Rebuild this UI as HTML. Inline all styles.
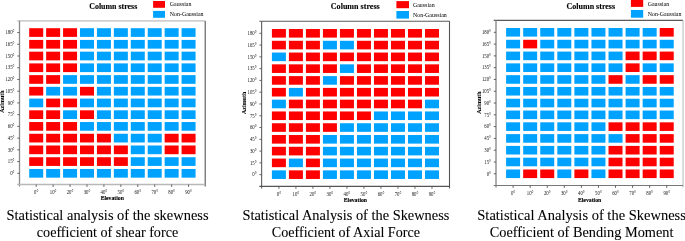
<!DOCTYPE html>
<html><head><meta charset="utf-8"><style>
html,body{margin:0;padding:0;background:#fff;width:685px;height:241px;overflow:hidden}
svg{display:block;will-change:transform}
text{font-family:"Liberation Serif",serif;fill:#111}
.tk{font-size:5.3px;fill:#111}
.ti{font-size:8.6px;font-weight:bold;fill:#000;stroke:#000;stroke-width:0.12px}
.lg{font-size:5.9px;fill:#000}
.al{font-size:7px;font-weight:bold;fill:#000;stroke:#000;stroke-width:0.15px}
.az{font-size:6px;stroke-width:0.06px}
.cap{font-size:14px;fill:#000;stroke:#000;stroke-width:0.08px}
</style></head><body>
<svg width="685" height="241" viewBox="0 0 685 241">
<rect x="29.20" y="28.20" width="14.0" height="8.7" fill="#ff0000"/>
<rect x="46.13" y="28.20" width="14.0" height="8.7" fill="#ff0000"/>
<rect x="63.06" y="28.20" width="14.0" height="8.7" fill="#ff0000"/>
<rect x="79.99" y="28.20" width="14.0" height="8.7" fill="#00a2ff"/>
<rect x="96.92" y="28.20" width="14.0" height="8.7" fill="#00a2ff"/>
<rect x="113.85" y="28.20" width="14.0" height="8.7" fill="#00a2ff"/>
<rect x="130.78" y="28.20" width="14.0" height="8.7" fill="#00a2ff"/>
<rect x="147.71" y="28.20" width="14.0" height="8.7" fill="#00a2ff"/>
<rect x="164.64" y="28.20" width="14.0" height="8.7" fill="#00a2ff"/>
<rect x="181.57" y="28.20" width="14.0" height="8.7" fill="#00a2ff"/>
<rect x="29.20" y="39.93" width="14.0" height="8.7" fill="#ff0000"/>
<rect x="46.13" y="39.93" width="14.0" height="8.7" fill="#ff0000"/>
<rect x="63.06" y="39.93" width="14.0" height="8.7" fill="#ff0000"/>
<rect x="79.99" y="39.93" width="14.0" height="8.7" fill="#00a2ff"/>
<rect x="96.92" y="39.93" width="14.0" height="8.7" fill="#00a2ff"/>
<rect x="113.85" y="39.93" width="14.0" height="8.7" fill="#00a2ff"/>
<rect x="130.78" y="39.93" width="14.0" height="8.7" fill="#00a2ff"/>
<rect x="147.71" y="39.93" width="14.0" height="8.7" fill="#00a2ff"/>
<rect x="164.64" y="39.93" width="14.0" height="8.7" fill="#00a2ff"/>
<rect x="181.57" y="39.93" width="14.0" height="8.7" fill="#00a2ff"/>
<rect x="29.20" y="51.66" width="14.0" height="8.7" fill="#ff0000"/>
<rect x="46.13" y="51.66" width="14.0" height="8.7" fill="#ff0000"/>
<rect x="63.06" y="51.66" width="14.0" height="8.7" fill="#ff0000"/>
<rect x="79.99" y="51.66" width="14.0" height="8.7" fill="#00a2ff"/>
<rect x="96.92" y="51.66" width="14.0" height="8.7" fill="#00a2ff"/>
<rect x="113.85" y="51.66" width="14.0" height="8.7" fill="#00a2ff"/>
<rect x="130.78" y="51.66" width="14.0" height="8.7" fill="#00a2ff"/>
<rect x="147.71" y="51.66" width="14.0" height="8.7" fill="#00a2ff"/>
<rect x="164.64" y="51.66" width="14.0" height="8.7" fill="#00a2ff"/>
<rect x="181.57" y="51.66" width="14.0" height="8.7" fill="#00a2ff"/>
<rect x="29.20" y="63.39" width="14.0" height="8.7" fill="#ff0000"/>
<rect x="46.13" y="63.39" width="14.0" height="8.7" fill="#ff0000"/>
<rect x="63.06" y="63.39" width="14.0" height="8.7" fill="#ff0000"/>
<rect x="79.99" y="63.39" width="14.0" height="8.7" fill="#00a2ff"/>
<rect x="96.92" y="63.39" width="14.0" height="8.7" fill="#00a2ff"/>
<rect x="113.85" y="63.39" width="14.0" height="8.7" fill="#00a2ff"/>
<rect x="130.78" y="63.39" width="14.0" height="8.7" fill="#00a2ff"/>
<rect x="147.71" y="63.39" width="14.0" height="8.7" fill="#00a2ff"/>
<rect x="164.64" y="63.39" width="14.0" height="8.7" fill="#00a2ff"/>
<rect x="181.57" y="63.39" width="14.0" height="8.7" fill="#00a2ff"/>
<rect x="29.20" y="75.12" width="14.0" height="8.7" fill="#ff0000"/>
<rect x="46.13" y="75.12" width="14.0" height="8.7" fill="#ff0000"/>
<rect x="63.06" y="75.12" width="14.0" height="8.7" fill="#00a2ff"/>
<rect x="79.99" y="75.12" width="14.0" height="8.7" fill="#00a2ff"/>
<rect x="96.92" y="75.12" width="14.0" height="8.7" fill="#00a2ff"/>
<rect x="113.85" y="75.12" width="14.0" height="8.7" fill="#00a2ff"/>
<rect x="130.78" y="75.12" width="14.0" height="8.7" fill="#00a2ff"/>
<rect x="147.71" y="75.12" width="14.0" height="8.7" fill="#00a2ff"/>
<rect x="164.64" y="75.12" width="14.0" height="8.7" fill="#00a2ff"/>
<rect x="181.57" y="75.12" width="14.0" height="8.7" fill="#00a2ff"/>
<rect x="29.20" y="86.85" width="14.0" height="8.7" fill="#ff0000"/>
<rect x="46.13" y="86.85" width="14.0" height="8.7" fill="#00a2ff"/>
<rect x="63.06" y="86.85" width="14.0" height="8.7" fill="#00a2ff"/>
<rect x="79.99" y="86.85" width="14.0" height="8.7" fill="#ff0000"/>
<rect x="96.92" y="86.85" width="14.0" height="8.7" fill="#00a2ff"/>
<rect x="113.85" y="86.85" width="14.0" height="8.7" fill="#00a2ff"/>
<rect x="130.78" y="86.85" width="14.0" height="8.7" fill="#00a2ff"/>
<rect x="147.71" y="86.85" width="14.0" height="8.7" fill="#00a2ff"/>
<rect x="164.64" y="86.85" width="14.0" height="8.7" fill="#00a2ff"/>
<rect x="181.57" y="86.85" width="14.0" height="8.7" fill="#00a2ff"/>
<rect x="29.20" y="98.58" width="14.0" height="8.7" fill="#00a2ff"/>
<rect x="46.13" y="98.58" width="14.0" height="8.7" fill="#ff0000"/>
<rect x="63.06" y="98.58" width="14.0" height="8.7" fill="#ff0000"/>
<rect x="79.99" y="98.58" width="14.0" height="8.7" fill="#00a2ff"/>
<rect x="96.92" y="98.58" width="14.0" height="8.7" fill="#00a2ff"/>
<rect x="113.85" y="98.58" width="14.0" height="8.7" fill="#00a2ff"/>
<rect x="130.78" y="98.58" width="14.0" height="8.7" fill="#00a2ff"/>
<rect x="147.71" y="98.58" width="14.0" height="8.7" fill="#00a2ff"/>
<rect x="164.64" y="98.58" width="14.0" height="8.7" fill="#00a2ff"/>
<rect x="181.57" y="98.58" width="14.0" height="8.7" fill="#00a2ff"/>
<rect x="29.20" y="110.31" width="14.0" height="8.7" fill="#ff0000"/>
<rect x="46.13" y="110.31" width="14.0" height="8.7" fill="#ff0000"/>
<rect x="63.06" y="110.31" width="14.0" height="8.7" fill="#00a2ff"/>
<rect x="79.99" y="110.31" width="14.0" height="8.7" fill="#ff0000"/>
<rect x="96.92" y="110.31" width="14.0" height="8.7" fill="#00a2ff"/>
<rect x="113.85" y="110.31" width="14.0" height="8.7" fill="#00a2ff"/>
<rect x="130.78" y="110.31" width="14.0" height="8.7" fill="#00a2ff"/>
<rect x="147.71" y="110.31" width="14.0" height="8.7" fill="#00a2ff"/>
<rect x="164.64" y="110.31" width="14.0" height="8.7" fill="#00a2ff"/>
<rect x="181.57" y="110.31" width="14.0" height="8.7" fill="#00a2ff"/>
<rect x="29.20" y="122.04" width="14.0" height="8.7" fill="#ff0000"/>
<rect x="46.13" y="122.04" width="14.0" height="8.7" fill="#ff0000"/>
<rect x="63.06" y="122.04" width="14.0" height="8.7" fill="#ff0000"/>
<rect x="79.99" y="122.04" width="14.0" height="8.7" fill="#00a2ff"/>
<rect x="96.92" y="122.04" width="14.0" height="8.7" fill="#00a2ff"/>
<rect x="113.85" y="122.04" width="14.0" height="8.7" fill="#00a2ff"/>
<rect x="130.78" y="122.04" width="14.0" height="8.7" fill="#00a2ff"/>
<rect x="147.71" y="122.04" width="14.0" height="8.7" fill="#00a2ff"/>
<rect x="164.64" y="122.04" width="14.0" height="8.7" fill="#00a2ff"/>
<rect x="181.57" y="122.04" width="14.0" height="8.7" fill="#00a2ff"/>
<rect x="29.20" y="133.77" width="14.0" height="8.7" fill="#ff0000"/>
<rect x="46.13" y="133.77" width="14.0" height="8.7" fill="#ff0000"/>
<rect x="63.06" y="133.77" width="14.0" height="8.7" fill="#ff0000"/>
<rect x="79.99" y="133.77" width="14.0" height="8.7" fill="#ff0000"/>
<rect x="96.92" y="133.77" width="14.0" height="8.7" fill="#ff0000"/>
<rect x="113.85" y="133.77" width="14.0" height="8.7" fill="#00a2ff"/>
<rect x="130.78" y="133.77" width="14.0" height="8.7" fill="#00a2ff"/>
<rect x="147.71" y="133.77" width="14.0" height="8.7" fill="#00a2ff"/>
<rect x="164.64" y="133.77" width="14.0" height="8.7" fill="#ff0000"/>
<rect x="181.57" y="133.77" width="14.0" height="8.7" fill="#ff0000"/>
<rect x="29.20" y="145.50" width="14.0" height="8.7" fill="#ff0000"/>
<rect x="46.13" y="145.50" width="14.0" height="8.7" fill="#ff0000"/>
<rect x="63.06" y="145.50" width="14.0" height="8.7" fill="#ff0000"/>
<rect x="79.99" y="145.50" width="14.0" height="8.7" fill="#ff0000"/>
<rect x="96.92" y="145.50" width="14.0" height="8.7" fill="#ff0000"/>
<rect x="113.85" y="145.50" width="14.0" height="8.7" fill="#ff0000"/>
<rect x="130.78" y="145.50" width="14.0" height="8.7" fill="#00a2ff"/>
<rect x="147.71" y="145.50" width="14.0" height="8.7" fill="#00a2ff"/>
<rect x="164.64" y="145.50" width="14.0" height="8.7" fill="#ff0000"/>
<rect x="181.57" y="145.50" width="14.0" height="8.7" fill="#ff0000"/>
<rect x="29.20" y="157.23" width="14.0" height="8.7" fill="#ff0000"/>
<rect x="46.13" y="157.23" width="14.0" height="8.7" fill="#ff0000"/>
<rect x="63.06" y="157.23" width="14.0" height="8.7" fill="#ff0000"/>
<rect x="79.99" y="157.23" width="14.0" height="8.7" fill="#ff0000"/>
<rect x="96.92" y="157.23" width="14.0" height="8.7" fill="#ff0000"/>
<rect x="113.85" y="157.23" width="14.0" height="8.7" fill="#ff0000"/>
<rect x="130.78" y="157.23" width="14.0" height="8.7" fill="#00a2ff"/>
<rect x="147.71" y="157.23" width="14.0" height="8.7" fill="#00a2ff"/>
<rect x="164.64" y="157.23" width="14.0" height="8.7" fill="#00a2ff"/>
<rect x="181.57" y="157.23" width="14.0" height="8.7" fill="#00a2ff"/>
<rect x="29.20" y="168.96" width="14.0" height="8.7" fill="#00a2ff"/>
<rect x="46.13" y="168.96" width="14.0" height="8.7" fill="#00a2ff"/>
<rect x="63.06" y="168.96" width="14.0" height="8.7" fill="#00a2ff"/>
<rect x="79.99" y="168.96" width="14.0" height="8.7" fill="#00a2ff"/>
<rect x="96.92" y="168.96" width="14.0" height="8.7" fill="#00a2ff"/>
<rect x="113.85" y="168.96" width="14.0" height="8.7" fill="#00a2ff"/>
<rect x="130.78" y="168.96" width="14.0" height="8.7" fill="#00a2ff"/>
<rect x="147.71" y="168.96" width="14.0" height="8.7" fill="#00a2ff"/>
<rect x="164.64" y="168.96" width="14.0" height="8.7" fill="#00a2ff"/>
<rect x="181.57" y="168.96" width="14.0" height="8.7" fill="#00a2ff"/>
<line x1="17.20" y1="20.90" x2="205.20" y2="20.90" stroke="#cfcfcf" stroke-width="1.8"/>
<line x1="19.50" y1="20.90" x2="19.50" y2="186.50" stroke="#8a8a8a" stroke-width="1.3"/>
<line x1="205.20" y1="20.90" x2="205.20" y2="186.50" stroke="#555555" stroke-width="1.1"/>
<line x1="17.20" y1="184.50" x2="205.20" y2="184.50" stroke="#b8b8b8" stroke-width="1.5"/>
<line x1="17.30" y1="32.55" x2="19.50" y2="32.55" stroke="#555" stroke-width="0.9"/>
<text transform="translate(14.50,34.30) scale(0.9,1)" class="tk" text-anchor="end">180°</text>
<line x1="17.30" y1="44.28" x2="19.50" y2="44.28" stroke="#555" stroke-width="0.9"/>
<text transform="translate(14.50,46.03) scale(0.9,1)" class="tk" text-anchor="end">165°</text>
<line x1="17.30" y1="56.01" x2="19.50" y2="56.01" stroke="#555" stroke-width="0.9"/>
<text transform="translate(14.50,57.76) scale(0.9,1)" class="tk" text-anchor="end">150°</text>
<line x1="17.30" y1="67.74" x2="19.50" y2="67.74" stroke="#555" stroke-width="0.9"/>
<text transform="translate(14.50,69.49) scale(0.9,1)" class="tk" text-anchor="end">135°</text>
<line x1="17.30" y1="79.47" x2="19.50" y2="79.47" stroke="#555" stroke-width="0.9"/>
<text transform="translate(14.50,81.22) scale(0.9,1)" class="tk" text-anchor="end">120°</text>
<line x1="17.30" y1="91.20" x2="19.50" y2="91.20" stroke="#555" stroke-width="0.9"/>
<text transform="translate(14.50,92.95) scale(0.9,1)" class="tk" text-anchor="end">105°</text>
<line x1="17.30" y1="102.93" x2="19.50" y2="102.93" stroke="#555" stroke-width="0.9"/>
<text transform="translate(14.50,104.68) scale(0.9,1)" class="tk" text-anchor="end">90°</text>
<line x1="17.30" y1="114.66" x2="19.50" y2="114.66" stroke="#555" stroke-width="0.9"/>
<text transform="translate(14.50,116.41) scale(0.9,1)" class="tk" text-anchor="end">75°</text>
<line x1="17.30" y1="126.39" x2="19.50" y2="126.39" stroke="#555" stroke-width="0.9"/>
<text transform="translate(14.50,128.14) scale(0.9,1)" class="tk" text-anchor="end">60°</text>
<line x1="17.30" y1="138.12" x2="19.50" y2="138.12" stroke="#555" stroke-width="0.9"/>
<text transform="translate(14.50,139.87) scale(0.9,1)" class="tk" text-anchor="end">45°</text>
<line x1="17.30" y1="149.85" x2="19.50" y2="149.85" stroke="#555" stroke-width="0.9"/>
<text transform="translate(14.50,151.60) scale(0.9,1)" class="tk" text-anchor="end">30°</text>
<line x1="17.30" y1="161.58" x2="19.50" y2="161.58" stroke="#555" stroke-width="0.9"/>
<text transform="translate(14.50,163.33) scale(0.9,1)" class="tk" text-anchor="end">15°</text>
<line x1="17.30" y1="173.31" x2="19.50" y2="173.31" stroke="#555" stroke-width="0.9"/>
<text transform="translate(14.50,175.06) scale(0.9,1)" class="tk" text-anchor="end">0°</text>
<line x1="36.20" y1="184.50" x2="36.20" y2="186.90" stroke="#555" stroke-width="0.9"/>
<text transform="translate(36.20,193.70) scale(0.9,1)" class="tk" text-anchor="middle">0°</text>
<line x1="53.13" y1="184.50" x2="53.13" y2="186.90" stroke="#555" stroke-width="0.9"/>
<text transform="translate(53.13,193.70) scale(0.9,1)" class="tk" text-anchor="middle">10°</text>
<line x1="70.06" y1="184.50" x2="70.06" y2="186.90" stroke="#555" stroke-width="0.9"/>
<text transform="translate(70.06,193.70) scale(0.9,1)" class="tk" text-anchor="middle">20°</text>
<line x1="86.99" y1="184.50" x2="86.99" y2="186.90" stroke="#555" stroke-width="0.9"/>
<text transform="translate(86.99,193.70) scale(0.9,1)" class="tk" text-anchor="middle">30°</text>
<line x1="103.92" y1="184.50" x2="103.92" y2="186.90" stroke="#555" stroke-width="0.9"/>
<text transform="translate(103.92,193.70) scale(0.9,1)" class="tk" text-anchor="middle">40°</text>
<line x1="120.85" y1="184.50" x2="120.85" y2="186.90" stroke="#555" stroke-width="0.9"/>
<text transform="translate(120.85,193.70) scale(0.9,1)" class="tk" text-anchor="middle">50°</text>
<line x1="137.78" y1="184.50" x2="137.78" y2="186.90" stroke="#555" stroke-width="0.9"/>
<text transform="translate(137.78,193.70) scale(0.9,1)" class="tk" text-anchor="middle">60°</text>
<line x1="154.71" y1="184.50" x2="154.71" y2="186.90" stroke="#555" stroke-width="0.9"/>
<text transform="translate(154.71,193.70) scale(0.9,1)" class="tk" text-anchor="middle">70°</text>
<line x1="171.64" y1="184.50" x2="171.64" y2="186.90" stroke="#555" stroke-width="0.9"/>
<text transform="translate(171.64,193.70) scale(0.9,1)" class="tk" text-anchor="middle">80°</text>
<line x1="188.57" y1="184.50" x2="188.57" y2="186.90" stroke="#555" stroke-width="0.9"/>
<text transform="translate(188.57,193.70) scale(0.9,1)" class="tk" text-anchor="middle">90°</text>
<text x="89.20" y="9.30" class="ti" textLength="48.1" lengthAdjust="spacingAndGlyphs">Column stress</text>
<rect x="153.10" y="1.00" width="11.9" height="6.8" fill="#ff0000"/>
<rect x="153.10" y="10.90" width="11.9" height="6.9" fill="#00a2ff"/>
<text x="169.80" y="6.30" class="lg">Gaussian</text>
<text x="169.80" y="16.30" class="lg">Non-Gaussian</text>
<text x="100.65" y="200.20" class="al" textLength="23.3" lengthAdjust="spacingAndGlyphs">Elevation</text>
<text transform="translate(4.40,101.60) rotate(-90)" class="al az" text-anchor="middle">Azimuth</text>
<rect x="271.90" y="29.00" width="14.0" height="8.6" fill="#ff0000"/>
<rect x="288.91" y="29.00" width="14.0" height="8.6" fill="#ff0000"/>
<rect x="305.92" y="29.00" width="14.0" height="8.6" fill="#ff0000"/>
<rect x="322.93" y="29.00" width="14.0" height="8.6" fill="#ff0000"/>
<rect x="339.94" y="29.00" width="14.0" height="8.6" fill="#ff0000"/>
<rect x="356.95" y="29.00" width="14.0" height="8.6" fill="#ff0000"/>
<rect x="373.96" y="29.00" width="14.0" height="8.6" fill="#ff0000"/>
<rect x="390.97" y="29.00" width="14.0" height="8.6" fill="#ff0000"/>
<rect x="407.98" y="29.00" width="14.0" height="8.6" fill="#ff0000"/>
<rect x="424.99" y="29.00" width="14.0" height="8.6" fill="#ff0000"/>
<rect x="271.90" y="40.78" width="14.0" height="8.6" fill="#ff0000"/>
<rect x="288.91" y="40.78" width="14.0" height="8.6" fill="#ff0000"/>
<rect x="305.92" y="40.78" width="14.0" height="8.6" fill="#ff0000"/>
<rect x="322.93" y="40.78" width="14.0" height="8.6" fill="#00a2ff"/>
<rect x="339.94" y="40.78" width="14.0" height="8.6" fill="#00a2ff"/>
<rect x="356.95" y="40.78" width="14.0" height="8.6" fill="#ff0000"/>
<rect x="373.96" y="40.78" width="14.0" height="8.6" fill="#ff0000"/>
<rect x="390.97" y="40.78" width="14.0" height="8.6" fill="#ff0000"/>
<rect x="407.98" y="40.78" width="14.0" height="8.6" fill="#ff0000"/>
<rect x="424.99" y="40.78" width="14.0" height="8.6" fill="#ff0000"/>
<rect x="271.90" y="52.56" width="14.0" height="8.6" fill="#00a2ff"/>
<rect x="288.91" y="52.56" width="14.0" height="8.6" fill="#ff0000"/>
<rect x="305.92" y="52.56" width="14.0" height="8.6" fill="#ff0000"/>
<rect x="322.93" y="52.56" width="14.0" height="8.6" fill="#ff0000"/>
<rect x="339.94" y="52.56" width="14.0" height="8.6" fill="#ff0000"/>
<rect x="356.95" y="52.56" width="14.0" height="8.6" fill="#ff0000"/>
<rect x="373.96" y="52.56" width="14.0" height="8.6" fill="#ff0000"/>
<rect x="390.97" y="52.56" width="14.0" height="8.6" fill="#ff0000"/>
<rect x="407.98" y="52.56" width="14.0" height="8.6" fill="#ff0000"/>
<rect x="424.99" y="52.56" width="14.0" height="8.6" fill="#ff0000"/>
<rect x="271.90" y="64.34" width="14.0" height="8.6" fill="#ff0000"/>
<rect x="288.91" y="64.34" width="14.0" height="8.6" fill="#ff0000"/>
<rect x="305.92" y="64.34" width="14.0" height="8.6" fill="#ff0000"/>
<rect x="322.93" y="64.34" width="14.0" height="8.6" fill="#ff0000"/>
<rect x="339.94" y="64.34" width="14.0" height="8.6" fill="#00a2ff"/>
<rect x="356.95" y="64.34" width="14.0" height="8.6" fill="#ff0000"/>
<rect x="373.96" y="64.34" width="14.0" height="8.6" fill="#ff0000"/>
<rect x="390.97" y="64.34" width="14.0" height="8.6" fill="#ff0000"/>
<rect x="407.98" y="64.34" width="14.0" height="8.6" fill="#ff0000"/>
<rect x="424.99" y="64.34" width="14.0" height="8.6" fill="#ff0000"/>
<rect x="271.90" y="76.12" width="14.0" height="8.6" fill="#ff0000"/>
<rect x="288.91" y="76.12" width="14.0" height="8.6" fill="#ff0000"/>
<rect x="305.92" y="76.12" width="14.0" height="8.6" fill="#ff0000"/>
<rect x="322.93" y="76.12" width="14.0" height="8.6" fill="#00a2ff"/>
<rect x="339.94" y="76.12" width="14.0" height="8.6" fill="#ff0000"/>
<rect x="356.95" y="76.12" width="14.0" height="8.6" fill="#ff0000"/>
<rect x="373.96" y="76.12" width="14.0" height="8.6" fill="#ff0000"/>
<rect x="390.97" y="76.12" width="14.0" height="8.6" fill="#ff0000"/>
<rect x="407.98" y="76.12" width="14.0" height="8.6" fill="#ff0000"/>
<rect x="424.99" y="76.12" width="14.0" height="8.6" fill="#ff0000"/>
<rect x="271.90" y="87.90" width="14.0" height="8.6" fill="#ff0000"/>
<rect x="288.91" y="87.90" width="14.0" height="8.6" fill="#00a2ff"/>
<rect x="305.92" y="87.90" width="14.0" height="8.6" fill="#ff0000"/>
<rect x="322.93" y="87.90" width="14.0" height="8.6" fill="#ff0000"/>
<rect x="339.94" y="87.90" width="14.0" height="8.6" fill="#ff0000"/>
<rect x="356.95" y="87.90" width="14.0" height="8.6" fill="#ff0000"/>
<rect x="373.96" y="87.90" width="14.0" height="8.6" fill="#ff0000"/>
<rect x="390.97" y="87.90" width="14.0" height="8.6" fill="#ff0000"/>
<rect x="407.98" y="87.90" width="14.0" height="8.6" fill="#ff0000"/>
<rect x="424.99" y="87.90" width="14.0" height="8.6" fill="#ff0000"/>
<rect x="271.90" y="99.68" width="14.0" height="8.6" fill="#00a2ff"/>
<rect x="288.91" y="99.68" width="14.0" height="8.6" fill="#ff0000"/>
<rect x="305.92" y="99.68" width="14.0" height="8.6" fill="#ff0000"/>
<rect x="322.93" y="99.68" width="14.0" height="8.6" fill="#ff0000"/>
<rect x="339.94" y="99.68" width="14.0" height="8.6" fill="#ff0000"/>
<rect x="356.95" y="99.68" width="14.0" height="8.6" fill="#ff0000"/>
<rect x="373.96" y="99.68" width="14.0" height="8.6" fill="#ff0000"/>
<rect x="390.97" y="99.68" width="14.0" height="8.6" fill="#ff0000"/>
<rect x="407.98" y="99.68" width="14.0" height="8.6" fill="#ff0000"/>
<rect x="424.99" y="99.68" width="14.0" height="8.6" fill="#00a2ff"/>
<rect x="271.90" y="111.46" width="14.0" height="8.6" fill="#ff0000"/>
<rect x="288.91" y="111.46" width="14.0" height="8.6" fill="#ff0000"/>
<rect x="305.92" y="111.46" width="14.0" height="8.6" fill="#ff0000"/>
<rect x="322.93" y="111.46" width="14.0" height="8.6" fill="#ff0000"/>
<rect x="339.94" y="111.46" width="14.0" height="8.6" fill="#ff0000"/>
<rect x="356.95" y="111.46" width="14.0" height="8.6" fill="#ff0000"/>
<rect x="373.96" y="111.46" width="14.0" height="8.6" fill="#00a2ff"/>
<rect x="390.97" y="111.46" width="14.0" height="8.6" fill="#00a2ff"/>
<rect x="407.98" y="111.46" width="14.0" height="8.6" fill="#00a2ff"/>
<rect x="424.99" y="111.46" width="14.0" height="8.6" fill="#00a2ff"/>
<rect x="271.90" y="123.24" width="14.0" height="8.6" fill="#ff0000"/>
<rect x="288.91" y="123.24" width="14.0" height="8.6" fill="#ff0000"/>
<rect x="305.92" y="123.24" width="14.0" height="8.6" fill="#ff0000"/>
<rect x="322.93" y="123.24" width="14.0" height="8.6" fill="#ff0000"/>
<rect x="339.94" y="123.24" width="14.0" height="8.6" fill="#00a2ff"/>
<rect x="356.95" y="123.24" width="14.0" height="8.6" fill="#00a2ff"/>
<rect x="373.96" y="123.24" width="14.0" height="8.6" fill="#00a2ff"/>
<rect x="390.97" y="123.24" width="14.0" height="8.6" fill="#00a2ff"/>
<rect x="407.98" y="123.24" width="14.0" height="8.6" fill="#00a2ff"/>
<rect x="424.99" y="123.24" width="14.0" height="8.6" fill="#00a2ff"/>
<rect x="271.90" y="135.02" width="14.0" height="8.6" fill="#ff0000"/>
<rect x="288.91" y="135.02" width="14.0" height="8.6" fill="#ff0000"/>
<rect x="305.92" y="135.02" width="14.0" height="8.6" fill="#ff0000"/>
<rect x="322.93" y="135.02" width="14.0" height="8.6" fill="#00a2ff"/>
<rect x="339.94" y="135.02" width="14.0" height="8.6" fill="#00a2ff"/>
<rect x="356.95" y="135.02" width="14.0" height="8.6" fill="#00a2ff"/>
<rect x="373.96" y="135.02" width="14.0" height="8.6" fill="#00a2ff"/>
<rect x="390.97" y="135.02" width="14.0" height="8.6" fill="#00a2ff"/>
<rect x="407.98" y="135.02" width="14.0" height="8.6" fill="#00a2ff"/>
<rect x="424.99" y="135.02" width="14.0" height="8.6" fill="#00a2ff"/>
<rect x="271.90" y="146.80" width="14.0" height="8.6" fill="#ff0000"/>
<rect x="288.91" y="146.80" width="14.0" height="8.6" fill="#ff0000"/>
<rect x="305.92" y="146.80" width="14.0" height="8.6" fill="#ff0000"/>
<rect x="322.93" y="146.80" width="14.0" height="8.6" fill="#00a2ff"/>
<rect x="339.94" y="146.80" width="14.0" height="8.6" fill="#00a2ff"/>
<rect x="356.95" y="146.80" width="14.0" height="8.6" fill="#00a2ff"/>
<rect x="373.96" y="146.80" width="14.0" height="8.6" fill="#00a2ff"/>
<rect x="390.97" y="146.80" width="14.0" height="8.6" fill="#00a2ff"/>
<rect x="407.98" y="146.80" width="14.0" height="8.6" fill="#00a2ff"/>
<rect x="424.99" y="146.80" width="14.0" height="8.6" fill="#00a2ff"/>
<rect x="271.90" y="158.58" width="14.0" height="8.6" fill="#ff0000"/>
<rect x="288.91" y="158.58" width="14.0" height="8.6" fill="#00a2ff"/>
<rect x="305.92" y="158.58" width="14.0" height="8.6" fill="#ff0000"/>
<rect x="322.93" y="158.58" width="14.0" height="8.6" fill="#00a2ff"/>
<rect x="339.94" y="158.58" width="14.0" height="8.6" fill="#00a2ff"/>
<rect x="356.95" y="158.58" width="14.0" height="8.6" fill="#00a2ff"/>
<rect x="373.96" y="158.58" width="14.0" height="8.6" fill="#00a2ff"/>
<rect x="390.97" y="158.58" width="14.0" height="8.6" fill="#00a2ff"/>
<rect x="407.98" y="158.58" width="14.0" height="8.6" fill="#00a2ff"/>
<rect x="424.99" y="158.58" width="14.0" height="8.6" fill="#00a2ff"/>
<rect x="271.90" y="170.36" width="14.0" height="8.6" fill="#00a2ff"/>
<rect x="288.91" y="170.36" width="14.0" height="8.6" fill="#ff0000"/>
<rect x="305.92" y="170.36" width="14.0" height="8.6" fill="#ff0000"/>
<rect x="322.93" y="170.36" width="14.0" height="8.6" fill="#00a2ff"/>
<rect x="339.94" y="170.36" width="14.0" height="8.6" fill="#00a2ff"/>
<rect x="356.95" y="170.36" width="14.0" height="8.6" fill="#00a2ff"/>
<rect x="373.96" y="170.36" width="14.0" height="8.6" fill="#00a2ff"/>
<rect x="390.97" y="170.36" width="14.0" height="8.6" fill="#00a2ff"/>
<rect x="407.98" y="170.36" width="14.0" height="8.6" fill="#00a2ff"/>
<rect x="424.99" y="170.36" width="14.0" height="8.6" fill="#00a2ff"/>
<line x1="259.30" y1="21.20" x2="449.50" y2="21.20" stroke="#5a5a5a" stroke-width="1.1"/>
<line x1="261.60" y1="21.20" x2="261.60" y2="188.40" stroke="#6a6a6a" stroke-width="1.2"/>
<line x1="449.50" y1="21.20" x2="449.50" y2="188.40" stroke="#555555" stroke-width="1.1"/>
<line x1="259.30" y1="186.40" x2="449.50" y2="186.40" stroke="#555555" stroke-width="1.1"/>
<line x1="259.40" y1="33.30" x2="261.60" y2="33.30" stroke="#555" stroke-width="0.9"/>
<text transform="translate(256.60,35.05) scale(0.9,1)" class="tk" text-anchor="end">180°</text>
<line x1="259.40" y1="45.08" x2="261.60" y2="45.08" stroke="#555" stroke-width="0.9"/>
<text transform="translate(256.60,46.83) scale(0.9,1)" class="tk" text-anchor="end">165°</text>
<line x1="259.40" y1="56.86" x2="261.60" y2="56.86" stroke="#555" stroke-width="0.9"/>
<text transform="translate(256.60,58.61) scale(0.9,1)" class="tk" text-anchor="end">150°</text>
<line x1="259.40" y1="68.64" x2="261.60" y2="68.64" stroke="#555" stroke-width="0.9"/>
<text transform="translate(256.60,70.39) scale(0.9,1)" class="tk" text-anchor="end">135°</text>
<line x1="259.40" y1="80.42" x2="261.60" y2="80.42" stroke="#555" stroke-width="0.9"/>
<text transform="translate(256.60,82.17) scale(0.9,1)" class="tk" text-anchor="end">120°</text>
<line x1="259.40" y1="92.20" x2="261.60" y2="92.20" stroke="#555" stroke-width="0.9"/>
<text transform="translate(256.60,93.95) scale(0.9,1)" class="tk" text-anchor="end">105°</text>
<line x1="259.40" y1="103.98" x2="261.60" y2="103.98" stroke="#555" stroke-width="0.9"/>
<text transform="translate(256.60,105.73) scale(0.9,1)" class="tk" text-anchor="end">90°</text>
<line x1="259.40" y1="115.76" x2="261.60" y2="115.76" stroke="#555" stroke-width="0.9"/>
<text transform="translate(256.60,117.51) scale(0.9,1)" class="tk" text-anchor="end">75°</text>
<line x1="259.40" y1="127.54" x2="261.60" y2="127.54" stroke="#555" stroke-width="0.9"/>
<text transform="translate(256.60,129.29) scale(0.9,1)" class="tk" text-anchor="end">60°</text>
<line x1="259.40" y1="139.32" x2="261.60" y2="139.32" stroke="#555" stroke-width="0.9"/>
<text transform="translate(256.60,141.07) scale(0.9,1)" class="tk" text-anchor="end">45°</text>
<line x1="259.40" y1="151.10" x2="261.60" y2="151.10" stroke="#555" stroke-width="0.9"/>
<text transform="translate(256.60,152.85) scale(0.9,1)" class="tk" text-anchor="end">30°</text>
<line x1="259.40" y1="162.88" x2="261.60" y2="162.88" stroke="#555" stroke-width="0.9"/>
<text transform="translate(256.60,164.63) scale(0.9,1)" class="tk" text-anchor="end">15°</text>
<line x1="259.40" y1="174.66" x2="261.60" y2="174.66" stroke="#555" stroke-width="0.9"/>
<text transform="translate(256.60,176.41) scale(0.9,1)" class="tk" text-anchor="end">0°</text>
<line x1="278.90" y1="186.40" x2="278.90" y2="188.80" stroke="#555" stroke-width="0.9"/>
<text transform="translate(278.90,196.00) scale(0.9,1)" class="tk" text-anchor="middle">0°</text>
<line x1="295.91" y1="186.40" x2="295.91" y2="188.80" stroke="#555" stroke-width="0.9"/>
<text transform="translate(295.91,196.00) scale(0.9,1)" class="tk" text-anchor="middle">10°</text>
<line x1="312.92" y1="186.40" x2="312.92" y2="188.80" stroke="#555" stroke-width="0.9"/>
<text transform="translate(312.92,196.00) scale(0.9,1)" class="tk" text-anchor="middle">20°</text>
<line x1="329.93" y1="186.40" x2="329.93" y2="188.80" stroke="#555" stroke-width="0.9"/>
<text transform="translate(329.93,196.00) scale(0.9,1)" class="tk" text-anchor="middle">30°</text>
<line x1="346.94" y1="186.40" x2="346.94" y2="188.80" stroke="#555" stroke-width="0.9"/>
<text transform="translate(346.94,196.00) scale(0.9,1)" class="tk" text-anchor="middle">40°</text>
<line x1="363.95" y1="186.40" x2="363.95" y2="188.80" stroke="#555" stroke-width="0.9"/>
<text transform="translate(363.95,196.00) scale(0.9,1)" class="tk" text-anchor="middle">50°</text>
<line x1="380.96" y1="186.40" x2="380.96" y2="188.80" stroke="#555" stroke-width="0.9"/>
<text transform="translate(380.96,196.00) scale(0.9,1)" class="tk" text-anchor="middle">60°</text>
<line x1="397.97" y1="186.40" x2="397.97" y2="188.80" stroke="#555" stroke-width="0.9"/>
<text transform="translate(397.97,196.00) scale(0.9,1)" class="tk" text-anchor="middle">70°</text>
<line x1="414.98" y1="186.40" x2="414.98" y2="188.80" stroke="#555" stroke-width="0.9"/>
<text transform="translate(414.98,196.00) scale(0.9,1)" class="tk" text-anchor="middle">80°</text>
<line x1="431.99" y1="186.40" x2="431.99" y2="188.80" stroke="#555" stroke-width="0.9"/>
<text transform="translate(431.99,196.00) scale(0.9,1)" class="tk" text-anchor="middle">90°</text>
<text x="330.80" y="9.40" class="ti" textLength="48.9" lengthAdjust="spacingAndGlyphs">Column stress</text>
<rect x="396.40" y="1.10" width="12.6" height="7.1" fill="#ff0000"/>
<rect x="396.40" y="11.00" width="12.6" height="7.6" fill="#00a2ff"/>
<text x="413.00" y="6.50" class="lg">Gaussian</text>
<text x="413.00" y="17.00" class="lg">Non-Gaussian</text>
<text x="343.75" y="202.10" class="al" textLength="23.3" lengthAdjust="spacingAndGlyphs">Elevation</text>
<text transform="translate(246.20,102.90) rotate(-90)" class="al az" text-anchor="middle">Azimuth</text>
<rect x="506.10" y="28.00" width="14.0" height="8.6" fill="#00a2ff"/>
<rect x="523.17" y="28.00" width="14.0" height="8.6" fill="#00a2ff"/>
<rect x="540.24" y="28.00" width="14.0" height="8.6" fill="#00a2ff"/>
<rect x="557.31" y="28.00" width="14.0" height="8.6" fill="#00a2ff"/>
<rect x="574.38" y="28.00" width="14.0" height="8.6" fill="#00a2ff"/>
<rect x="591.45" y="28.00" width="14.0" height="8.6" fill="#00a2ff"/>
<rect x="608.52" y="28.00" width="14.0" height="8.6" fill="#00a2ff"/>
<rect x="625.59" y="28.00" width="14.0" height="8.6" fill="#00a2ff"/>
<rect x="642.66" y="28.00" width="14.0" height="8.6" fill="#00a2ff"/>
<rect x="659.73" y="28.00" width="14.0" height="8.6" fill="#ff0000"/>
<rect x="506.10" y="39.79" width="14.0" height="8.6" fill="#00a2ff"/>
<rect x="523.17" y="39.79" width="14.0" height="8.6" fill="#ff0000"/>
<rect x="540.24" y="39.79" width="14.0" height="8.6" fill="#00a2ff"/>
<rect x="557.31" y="39.79" width="14.0" height="8.6" fill="#00a2ff"/>
<rect x="574.38" y="39.79" width="14.0" height="8.6" fill="#00a2ff"/>
<rect x="591.45" y="39.79" width="14.0" height="8.6" fill="#00a2ff"/>
<rect x="608.52" y="39.79" width="14.0" height="8.6" fill="#00a2ff"/>
<rect x="625.59" y="39.79" width="14.0" height="8.6" fill="#00a2ff"/>
<rect x="642.66" y="39.79" width="14.0" height="8.6" fill="#00a2ff"/>
<rect x="659.73" y="39.79" width="14.0" height="8.6" fill="#00a2ff"/>
<rect x="506.10" y="51.58" width="14.0" height="8.6" fill="#00a2ff"/>
<rect x="523.17" y="51.58" width="14.0" height="8.6" fill="#00a2ff"/>
<rect x="540.24" y="51.58" width="14.0" height="8.6" fill="#00a2ff"/>
<rect x="557.31" y="51.58" width="14.0" height="8.6" fill="#00a2ff"/>
<rect x="574.38" y="51.58" width="14.0" height="8.6" fill="#00a2ff"/>
<rect x="591.45" y="51.58" width="14.0" height="8.6" fill="#00a2ff"/>
<rect x="608.52" y="51.58" width="14.0" height="8.6" fill="#00a2ff"/>
<rect x="625.59" y="51.58" width="14.0" height="8.6" fill="#ff0000"/>
<rect x="642.66" y="51.58" width="14.0" height="8.6" fill="#ff0000"/>
<rect x="659.73" y="51.58" width="14.0" height="8.6" fill="#ff0000"/>
<rect x="506.10" y="63.37" width="14.0" height="8.6" fill="#00a2ff"/>
<rect x="523.17" y="63.37" width="14.0" height="8.6" fill="#00a2ff"/>
<rect x="540.24" y="63.37" width="14.0" height="8.6" fill="#00a2ff"/>
<rect x="557.31" y="63.37" width="14.0" height="8.6" fill="#00a2ff"/>
<rect x="574.38" y="63.37" width="14.0" height="8.6" fill="#00a2ff"/>
<rect x="591.45" y="63.37" width="14.0" height="8.6" fill="#00a2ff"/>
<rect x="608.52" y="63.37" width="14.0" height="8.6" fill="#00a2ff"/>
<rect x="625.59" y="63.37" width="14.0" height="8.6" fill="#ff0000"/>
<rect x="642.66" y="63.37" width="14.0" height="8.6" fill="#00a2ff"/>
<rect x="659.73" y="63.37" width="14.0" height="8.6" fill="#00a2ff"/>
<rect x="506.10" y="75.16" width="14.0" height="8.6" fill="#00a2ff"/>
<rect x="523.17" y="75.16" width="14.0" height="8.6" fill="#00a2ff"/>
<rect x="540.24" y="75.16" width="14.0" height="8.6" fill="#00a2ff"/>
<rect x="557.31" y="75.16" width="14.0" height="8.6" fill="#00a2ff"/>
<rect x="574.38" y="75.16" width="14.0" height="8.6" fill="#00a2ff"/>
<rect x="591.45" y="75.16" width="14.0" height="8.6" fill="#00a2ff"/>
<rect x="608.52" y="75.16" width="14.0" height="8.6" fill="#ff0000"/>
<rect x="625.59" y="75.16" width="14.0" height="8.6" fill="#00a2ff"/>
<rect x="642.66" y="75.16" width="14.0" height="8.6" fill="#ff0000"/>
<rect x="659.73" y="75.16" width="14.0" height="8.6" fill="#ff0000"/>
<rect x="506.10" y="86.95" width="14.0" height="8.6" fill="#00a2ff"/>
<rect x="523.17" y="86.95" width="14.0" height="8.6" fill="#00a2ff"/>
<rect x="540.24" y="86.95" width="14.0" height="8.6" fill="#00a2ff"/>
<rect x="557.31" y="86.95" width="14.0" height="8.6" fill="#00a2ff"/>
<rect x="574.38" y="86.95" width="14.0" height="8.6" fill="#00a2ff"/>
<rect x="591.45" y="86.95" width="14.0" height="8.6" fill="#00a2ff"/>
<rect x="608.52" y="86.95" width="14.0" height="8.6" fill="#00a2ff"/>
<rect x="625.59" y="86.95" width="14.0" height="8.6" fill="#00a2ff"/>
<rect x="642.66" y="86.95" width="14.0" height="8.6" fill="#00a2ff"/>
<rect x="659.73" y="86.95" width="14.0" height="8.6" fill="#00a2ff"/>
<rect x="506.10" y="98.74" width="14.0" height="8.6" fill="#00a2ff"/>
<rect x="523.17" y="98.74" width="14.0" height="8.6" fill="#00a2ff"/>
<rect x="540.24" y="98.74" width="14.0" height="8.6" fill="#00a2ff"/>
<rect x="557.31" y="98.74" width="14.0" height="8.6" fill="#00a2ff"/>
<rect x="574.38" y="98.74" width="14.0" height="8.6" fill="#00a2ff"/>
<rect x="591.45" y="98.74" width="14.0" height="8.6" fill="#00a2ff"/>
<rect x="608.52" y="98.74" width="14.0" height="8.6" fill="#00a2ff"/>
<rect x="625.59" y="98.74" width="14.0" height="8.6" fill="#00a2ff"/>
<rect x="642.66" y="98.74" width="14.0" height="8.6" fill="#00a2ff"/>
<rect x="659.73" y="98.74" width="14.0" height="8.6" fill="#00a2ff"/>
<rect x="506.10" y="110.53" width="14.0" height="8.6" fill="#00a2ff"/>
<rect x="523.17" y="110.53" width="14.0" height="8.6" fill="#00a2ff"/>
<rect x="540.24" y="110.53" width="14.0" height="8.6" fill="#00a2ff"/>
<rect x="557.31" y="110.53" width="14.0" height="8.6" fill="#00a2ff"/>
<rect x="574.38" y="110.53" width="14.0" height="8.6" fill="#00a2ff"/>
<rect x="591.45" y="110.53" width="14.0" height="8.6" fill="#00a2ff"/>
<rect x="608.52" y="110.53" width="14.0" height="8.6" fill="#00a2ff"/>
<rect x="625.59" y="110.53" width="14.0" height="8.6" fill="#00a2ff"/>
<rect x="642.66" y="110.53" width="14.0" height="8.6" fill="#00a2ff"/>
<rect x="659.73" y="110.53" width="14.0" height="8.6" fill="#00a2ff"/>
<rect x="506.10" y="122.32" width="14.0" height="8.6" fill="#00a2ff"/>
<rect x="523.17" y="122.32" width="14.0" height="8.6" fill="#00a2ff"/>
<rect x="540.24" y="122.32" width="14.0" height="8.6" fill="#00a2ff"/>
<rect x="557.31" y="122.32" width="14.0" height="8.6" fill="#00a2ff"/>
<rect x="574.38" y="122.32" width="14.0" height="8.6" fill="#00a2ff"/>
<rect x="591.45" y="122.32" width="14.0" height="8.6" fill="#00a2ff"/>
<rect x="608.52" y="122.32" width="14.0" height="8.6" fill="#ff0000"/>
<rect x="625.59" y="122.32" width="14.0" height="8.6" fill="#ff0000"/>
<rect x="642.66" y="122.32" width="14.0" height="8.6" fill="#ff0000"/>
<rect x="659.73" y="122.32" width="14.0" height="8.6" fill="#ff0000"/>
<rect x="506.10" y="134.11" width="14.0" height="8.6" fill="#00a2ff"/>
<rect x="523.17" y="134.11" width="14.0" height="8.6" fill="#00a2ff"/>
<rect x="540.24" y="134.11" width="14.0" height="8.6" fill="#00a2ff"/>
<rect x="557.31" y="134.11" width="14.0" height="8.6" fill="#00a2ff"/>
<rect x="574.38" y="134.11" width="14.0" height="8.6" fill="#00a2ff"/>
<rect x="591.45" y="134.11" width="14.0" height="8.6" fill="#00a2ff"/>
<rect x="608.52" y="134.11" width="14.0" height="8.6" fill="#00a2ff"/>
<rect x="625.59" y="134.11" width="14.0" height="8.6" fill="#ff0000"/>
<rect x="642.66" y="134.11" width="14.0" height="8.6" fill="#ff0000"/>
<rect x="659.73" y="134.11" width="14.0" height="8.6" fill="#ff0000"/>
<rect x="506.10" y="145.90" width="14.0" height="8.6" fill="#00a2ff"/>
<rect x="523.17" y="145.90" width="14.0" height="8.6" fill="#00a2ff"/>
<rect x="540.24" y="145.90" width="14.0" height="8.6" fill="#00a2ff"/>
<rect x="557.31" y="145.90" width="14.0" height="8.6" fill="#00a2ff"/>
<rect x="574.38" y="145.90" width="14.0" height="8.6" fill="#00a2ff"/>
<rect x="591.45" y="145.90" width="14.0" height="8.6" fill="#00a2ff"/>
<rect x="608.52" y="145.90" width="14.0" height="8.6" fill="#ff0000"/>
<rect x="625.59" y="145.90" width="14.0" height="8.6" fill="#ff0000"/>
<rect x="642.66" y="145.90" width="14.0" height="8.6" fill="#ff0000"/>
<rect x="659.73" y="145.90" width="14.0" height="8.6" fill="#ff0000"/>
<rect x="506.10" y="157.69" width="14.0" height="8.6" fill="#00a2ff"/>
<rect x="523.17" y="157.69" width="14.0" height="8.6" fill="#00a2ff"/>
<rect x="540.24" y="157.69" width="14.0" height="8.6" fill="#00a2ff"/>
<rect x="557.31" y="157.69" width="14.0" height="8.6" fill="#00a2ff"/>
<rect x="574.38" y="157.69" width="14.0" height="8.6" fill="#00a2ff"/>
<rect x="591.45" y="157.69" width="14.0" height="8.6" fill="#00a2ff"/>
<rect x="608.52" y="157.69" width="14.0" height="8.6" fill="#ff0000"/>
<rect x="625.59" y="157.69" width="14.0" height="8.6" fill="#ff0000"/>
<rect x="642.66" y="157.69" width="14.0" height="8.6" fill="#ff0000"/>
<rect x="659.73" y="157.69" width="14.0" height="8.6" fill="#ff0000"/>
<rect x="506.10" y="169.48" width="14.0" height="8.6" fill="#00a2ff"/>
<rect x="523.17" y="169.48" width="14.0" height="8.6" fill="#ff0000"/>
<rect x="540.24" y="169.48" width="14.0" height="8.6" fill="#ff0000"/>
<rect x="557.31" y="169.48" width="14.0" height="8.6" fill="#00a2ff"/>
<rect x="574.38" y="169.48" width="14.0" height="8.6" fill="#ff0000"/>
<rect x="591.45" y="169.48" width="14.0" height="8.6" fill="#00a2ff"/>
<rect x="608.52" y="169.48" width="14.0" height="8.6" fill="#ff0000"/>
<rect x="625.59" y="169.48" width="14.0" height="8.6" fill="#ff0000"/>
<rect x="642.66" y="169.48" width="14.0" height="8.6" fill="#ff0000"/>
<rect x="659.73" y="169.48" width="14.0" height="8.6" fill="#ff0000"/>
<line x1="493.70" y1="20.40" x2="683.10" y2="20.40" stroke="#5a5a5a" stroke-width="1.2"/>
<line x1="496.00" y1="20.40" x2="496.00" y2="187.50" stroke="#9a9a9a" stroke-width="1.6"/>
<line x1="683.10" y1="20.40" x2="683.10" y2="187.50" stroke="#c4c4c4" stroke-width="1.2"/>
<line x1="493.70" y1="185.50" x2="683.10" y2="185.50" stroke="#777777" stroke-width="1.2"/>
<line x1="493.80" y1="32.30" x2="496.00" y2="32.30" stroke="#555" stroke-width="0.9"/>
<text transform="translate(491.00,34.05) scale(0.9,1)" class="tk" text-anchor="end">180°</text>
<line x1="493.80" y1="44.09" x2="496.00" y2="44.09" stroke="#555" stroke-width="0.9"/>
<text transform="translate(491.00,45.84) scale(0.9,1)" class="tk" text-anchor="end">165°</text>
<line x1="493.80" y1="55.88" x2="496.00" y2="55.88" stroke="#555" stroke-width="0.9"/>
<text transform="translate(491.00,57.63) scale(0.9,1)" class="tk" text-anchor="end">150°</text>
<line x1="493.80" y1="67.67" x2="496.00" y2="67.67" stroke="#555" stroke-width="0.9"/>
<text transform="translate(491.00,69.42) scale(0.9,1)" class="tk" text-anchor="end">135°</text>
<line x1="493.80" y1="79.46" x2="496.00" y2="79.46" stroke="#555" stroke-width="0.9"/>
<text transform="translate(491.00,81.21) scale(0.9,1)" class="tk" text-anchor="end">120°</text>
<line x1="493.80" y1="91.25" x2="496.00" y2="91.25" stroke="#555" stroke-width="0.9"/>
<text transform="translate(491.00,93.00) scale(0.9,1)" class="tk" text-anchor="end">105°</text>
<line x1="493.80" y1="103.04" x2="496.00" y2="103.04" stroke="#555" stroke-width="0.9"/>
<text transform="translate(491.00,104.79) scale(0.9,1)" class="tk" text-anchor="end">90°</text>
<line x1="493.80" y1="114.83" x2="496.00" y2="114.83" stroke="#555" stroke-width="0.9"/>
<text transform="translate(491.00,116.58) scale(0.9,1)" class="tk" text-anchor="end">75°</text>
<line x1="493.80" y1="126.62" x2="496.00" y2="126.62" stroke="#555" stroke-width="0.9"/>
<text transform="translate(491.00,128.37) scale(0.9,1)" class="tk" text-anchor="end">60°</text>
<line x1="493.80" y1="138.41" x2="496.00" y2="138.41" stroke="#555" stroke-width="0.9"/>
<text transform="translate(491.00,140.16) scale(0.9,1)" class="tk" text-anchor="end">45°</text>
<line x1="493.80" y1="150.20" x2="496.00" y2="150.20" stroke="#555" stroke-width="0.9"/>
<text transform="translate(491.00,151.95) scale(0.9,1)" class="tk" text-anchor="end">30°</text>
<line x1="493.80" y1="161.99" x2="496.00" y2="161.99" stroke="#555" stroke-width="0.9"/>
<text transform="translate(491.00,163.74) scale(0.9,1)" class="tk" text-anchor="end">15°</text>
<line x1="493.80" y1="173.78" x2="496.00" y2="173.78" stroke="#555" stroke-width="0.9"/>
<text transform="translate(491.00,175.53) scale(0.9,1)" class="tk" text-anchor="end">0°</text>
<line x1="513.10" y1="185.50" x2="513.10" y2="187.90" stroke="#555" stroke-width="0.9"/>
<text transform="translate(513.10,194.80) scale(0.9,1)" class="tk" text-anchor="middle">0°</text>
<line x1="530.17" y1="185.50" x2="530.17" y2="187.90" stroke="#555" stroke-width="0.9"/>
<text transform="translate(530.17,194.80) scale(0.9,1)" class="tk" text-anchor="middle">10°</text>
<line x1="547.24" y1="185.50" x2="547.24" y2="187.90" stroke="#555" stroke-width="0.9"/>
<text transform="translate(547.24,194.80) scale(0.9,1)" class="tk" text-anchor="middle">20°</text>
<line x1="564.31" y1="185.50" x2="564.31" y2="187.90" stroke="#555" stroke-width="0.9"/>
<text transform="translate(564.31,194.80) scale(0.9,1)" class="tk" text-anchor="middle">30°</text>
<line x1="581.38" y1="185.50" x2="581.38" y2="187.90" stroke="#555" stroke-width="0.9"/>
<text transform="translate(581.38,194.80) scale(0.9,1)" class="tk" text-anchor="middle">40°</text>
<line x1="598.45" y1="185.50" x2="598.45" y2="187.90" stroke="#555" stroke-width="0.9"/>
<text transform="translate(598.45,194.80) scale(0.9,1)" class="tk" text-anchor="middle">50°</text>
<line x1="615.52" y1="185.50" x2="615.52" y2="187.90" stroke="#555" stroke-width="0.9"/>
<text transform="translate(615.52,194.80) scale(0.9,1)" class="tk" text-anchor="middle">60°</text>
<line x1="632.59" y1="185.50" x2="632.59" y2="187.90" stroke="#555" stroke-width="0.9"/>
<text transform="translate(632.59,194.80) scale(0.9,1)" class="tk" text-anchor="middle">70°</text>
<line x1="649.66" y1="185.50" x2="649.66" y2="187.90" stroke="#555" stroke-width="0.9"/>
<text transform="translate(649.66,194.80) scale(0.9,1)" class="tk" text-anchor="middle">80°</text>
<line x1="666.73" y1="185.50" x2="666.73" y2="187.90" stroke="#555" stroke-width="0.9"/>
<text transform="translate(666.73,194.80) scale(0.9,1)" class="tk" text-anchor="middle">90°</text>
<text x="566.50" y="8.80" class="ti" textLength="48.6" lengthAdjust="spacingAndGlyphs">Column stress</text>
<rect x="630.90" y="0.00" width="12.3" height="6.9" fill="#ff0000"/>
<rect x="630.90" y="10.00" width="12.3" height="7.7" fill="#00a2ff"/>
<text x="647.70" y="5.70" class="lg">Gaussian</text>
<text x="647.70" y="16.10" class="lg">Non-Gaussian</text>
<text x="577.95" y="201.50" class="al" textLength="23.3" lengthAdjust="spacingAndGlyphs">Elevation</text>
<text transform="translate(480.70,102.60) rotate(-90)" class="al az" text-anchor="middle">Azimuth</text>
<text x="6.45" y="220.35" class="cap" textLength="202.1" lengthAdjust="spacingAndGlyphs">Statistical analysis of the skewness</text>
<text x="36.80" y="237.0" class="cap" textLength="141.4" lengthAdjust="spacingAndGlyphs">coefficient of shear force</text>
<text x="242.40" y="220.35" class="cap" textLength="207.0" lengthAdjust="spacingAndGlyphs">Statistical Analysis of the Skewness</text>
<text x="271.85" y="237.0" class="cap" textLength="148.1" lengthAdjust="spacingAndGlyphs">Coefficient of Axial Force</text>
<text x="477.30" y="220.35" class="cap" textLength="208.6" lengthAdjust="spacingAndGlyphs">Statistical Analysis of the Skewness</text>
<text x="489.80" y="237.0" class="cap" textLength="183.6" lengthAdjust="spacingAndGlyphs">Coefficient of Bending Moment</text>
</svg>
</body></html>
